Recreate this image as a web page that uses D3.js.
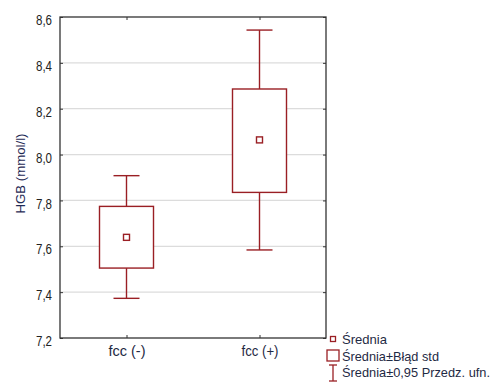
<!DOCTYPE html>
<html><head><meta charset="utf-8">
<script src="https://cdn.jsdelivr.net/npm/d3@7"></script>
<style>body{margin:0;background:#fff}svg{display:block;font-family:"Liberation Sans",Arial,sans-serif}</style>
</head><body><svg id="c" width="498" height="385"></svg>
<script>
const categories = ["fcc (-)", "fcc (+)"];
const means = [7.639, 8.064];
const seLow = [7.505, 7.835];
const seHigh = [7.774, 8.286];
const ciLow = [7.373, 7.584];
const ciHigh = [7.908, 8.543];
const yTicks = [7.2, 7.4, 7.6, 7.8, 8.0, 8.2, 8.4, 8.6];
const legendLabels = ["Średnia", "Średnia±Błąd std", "Średnia±0,95 Przedz. ufn."];

const svg = d3.select("#c");
const m = {l: 60, r: 326, t: 17, b: 338};
const red = "#9a1f24";
const x = d3.scalePoint().domain(categories).range([m.l, m.r]).padding(0.5);
const y = d3.scaleLinear().domain([7.2, 8.6]).range([m.b, m.t]);

// gridlines
svg.append("g").selectAll("line").data(yTicks.slice(1, -1)).join("line")
  .attr("x1", m.l).attr("x2", m.r).attr("y1", d => y(d)).attr("y2", d => y(d))
  .attr("stroke", "#dcdcdc").attr("stroke-width", 1.2);

// frame
svg.append("rect").attr("x", m.l).attr("y", m.t).attr("width", m.r - m.l).attr("height", m.b - m.t)
  .attr("fill", "none").attr("stroke", "#333").attr("stroke-width", 1.3);

const fmt = d => d3.format(".1f")(d).replace(".", ",");
const yAxis = svg.append("g").attr("transform", `translate(${m.l},0)`)
  .call(d3.axisLeft(y).tickValues(yTicks).tickSize(-3).tickPadding(8).tickFormat(fmt));
yAxis.select(".domain").remove();
yAxis.selectAll("line").attr("stroke", "#333");
yAxis.selectAll("text").attr("font-size", 14).attr("fill", "#222").attr("dy", "0.55em")
  .attr("textLength", 16).attr("lengthAdjust", "spacingAndGlyphs");
const yAxisR = svg.append("g").attr("transform", `translate(${m.r},0)`)
  .call(d3.axisRight(y).tickValues(yTicks).tickSize(-3).tickFormat(""));
yAxisR.select(".domain").remove();
yAxisR.selectAll("line").attr("stroke", "#333");

const xAxis = svg.append("g").attr("transform", `translate(0,${m.b})`)
  .call(d3.axisBottom(x).tickSize(-3).tickPadding(0));
xAxis.select(".domain").remove();
xAxis.selectAll("line").attr("stroke", "#333");
xAxis.selectAll("text").attr("font-size", 14).attr("fill", "#1f2a44").attr("dy", null).attr("y", 18)
  .attr("textLength", 37).attr("lengthAdjust", "spacingAndGlyphs");
const xAxisT = svg.append("g").attr("transform", `translate(0,${m.t})`)
  .call(d3.axisTop(x).tickSize(-3).tickFormat(""));
xAxisT.select(".domain").remove();
xAxisT.selectAll("line").attr("stroke", "#333");

svg.append("text").attr("transform", `translate(21,${(m.t + m.b) / 2 - 4}) rotate(-90)`)
  .attr("text-anchor", "middle").attr("dominant-baseline", "middle")
  .attr("font-size", 13.5).attr("fill", "#1f2a55")
  .attr("textLength", 80).attr("lengthAdjust", "spacingAndGlyphs").text("HGB (mmol/l)");

const boxW = 54, capW = 26, mk = 6;
const g = svg.append("g").attr("stroke", red).attr("stroke-width", 1.4).attr("fill", "none");
categories.forEach((c, i) => {
  const cx = x(c);
  g.append("line").attr("x1", cx).attr("x2", cx).attr("y1", y(ciHigh[i])).attr("y2", y(seHigh[i]));
  g.append("line").attr("x1", cx).attr("x2", cx).attr("y1", y(seLow[i])).attr("y2", y(ciLow[i]));
  g.append("line").attr("x1", cx - capW / 2).attr("x2", cx + capW / 2).attr("y1", y(ciHigh[i])).attr("y2", y(ciHigh[i]));
  g.append("line").attr("x1", cx - capW / 2).attr("x2", cx + capW / 2).attr("y1", y(ciLow[i])).attr("y2", y(ciLow[i]));
  g.append("rect").attr("x", cx - boxW / 2).attr("width", boxW)
    .attr("y", y(seHigh[i])).attr("height", y(seLow[i]) - y(seHigh[i])).attr("fill", "#fff");
  g.append("rect").attr("x", cx - mk / 2).attr("y", y(means[i]) - mk / 2).attr("width", mk).attr("height", mk).attr("fill", "#fff");
});

// legend
const lg = svg.append("g");
const lx = 333;
lg.append("rect").attr("x", lx - 2.5).attr("y", 336.5).attr("width", 5).attr("height", 5).attr("fill", "none").attr("stroke", red).attr("stroke-width", 1.3);
lg.append("rect").attr("x", lx - 6).attr("y", 350).attr("width", 12).attr("height", 11).attr("fill", "none").attr("stroke", red).attr("stroke-width", 1.3);
lg.append("line").attr("x1", lx).attr("x2", lx).attr("y1", 365).attr("y2", 381).attr("stroke", red).attr("stroke-width", 1.3);
lg.append("line").attr("x1", lx - 4).attr("x2", lx + 4).attr("y1", 365).attr("y2", 365).attr("stroke", red).attr("stroke-width", 1.3);
lg.append("line").attr("x1", lx - 4).attr("x2", lx + 4).attr("y1", 381).attr("y2", 381).attr("stroke", red).attr("stroke-width", 1.3);
lg.selectAll("text").data(legendLabels).join("text")
  .attr("x", 342).attr("y", (d, i) => [344, 360.5, 376.5][i])
  .attr("font-size", 13.5).attr("fill", "#1f2a44").attr("textLength", (d, i) => [45, 97, 148][i]).attr("lengthAdjust", "spacingAndGlyphs")
  .text(d => d);
</script></body></html>
